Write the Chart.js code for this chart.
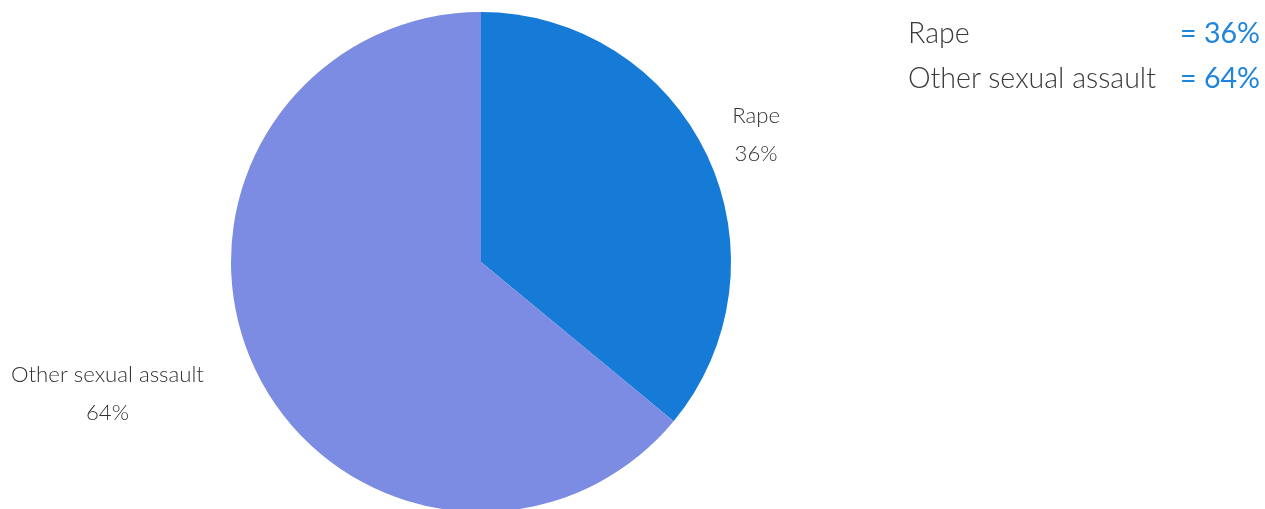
<!DOCTYPE html>
<html lang="en">
<head>
  <meta charset="UTF-8" />
  <title>Rape vs other sexual assault</title>
  <script src="https://cdn.jsdelivr.net/npm/chart.js"></script>
  <style>
    html, body {
      margin: 0;
      padding: 0;
      width: 1265px;
      height: 509px;
      overflow: hidden;
      background: #fff;
      font-family: Lato, 'Open Sans', sans-serif;
      font-weight: 300;
    }
    /* pie box: centre at (481, 262), radius 250 */
    .pie-box {
      position: absolute;
      left: 0;
      top: 0;
      width: 1265px;
      height: 509px;
    }
    /* legend top right */
    .legend {
      position: absolute;
      left: 908px;
      top: 11px;
      width: 352px;
      font-size: 28.6px;
      color: #3a3a3a;
    }
    .legend .row {
      display: flex;
      justify-content: space-between;
      height: 45px;
      line-height: 42px;
    }
    .legend .val {
      color: #1e84dc;
      font-weight: 400;
    }
  </style>
</head>
<body>
  <div class="pie-box"><canvas id="pieChart"></canvas></div>
  <div class="legend" id="legend"></div>

  <script>
    // Daten
    const categories = ['Rape', 'Other sexual assault'];
    const shares = [36, 64];
    const sliceColors = ['#167bd6', '#7b8ce2'];

    // Legende rechts oben
    const legend = document.getElementById('legend');
    categories.forEach((name, i) => {
      const row = document.createElement('div');
      row.className = 'row';
      row.innerHTML = '<span>' + name + '</span><span class="val">= ' + shares[i] + '%</span>';
      legend.appendChild(row);
    });

    // Beschriftung außerhalb der Tortenstücke
    const outsideLabels = {
      id: 'outsideLabels',
      afterDatasetsDraw(chart) {
        const ctx = chart.ctx;
        const meta = chart.getDatasetMeta(0);
        ctx.save();
        ctx.font = '300 22.2px Lato, sans-serif';
        ctx.fillStyle = '#333';
        ctx.textBaseline = 'middle';
        meta.data.forEach((arc, i) => {
          const mid = (arc.startAngle + arc.endAngle) / 2;
          const r = arc.outerRadius + 54;
          const x = arc.x + Math.cos(mid) * r;
          const y = arc.y + Math.sin(mid) * r;
          const lines = [categories[i], shares[i] + '%'];
          const w = Math.max(...lines.map(l => ctx.measureText(l).width));
          // linke Hälfte: Block rechtsbündig am Ankerpunkt, sonst zentriert
          const cx = x < arc.x - arc.outerRadius * 0.5 ? x - 2 - w / 2 : x;
          ctx.textAlign = 'center';
          ctx.fillText(lines[0], cx, y - 17);
          ctx.fillText(lines[1], cx, y + 21);
        });
        ctx.restore();
      }
    };

    const ctx = document.getElementById('pieChart').getContext('2d');
    new Chart(ctx, {
      type: 'pie',
      data: {
        labels: categories,
        datasets: [{
          data: shares,
          backgroundColor: sliceColors,
          borderWidth: 0,
        }],
      },
      options: {
        responsive: true,
        maintainAspectRatio: false,
        animation: false,
        radius: 250,
        layout: { padding: { left: 231, top: 15, right: 534, bottom: 0 } },
        plugins: {
          legend: { display: false },
          tooltip: { enabled: false },
        },
      },
      plugins: [outsideLabels],
    });
  </script>
</body>
</html>
